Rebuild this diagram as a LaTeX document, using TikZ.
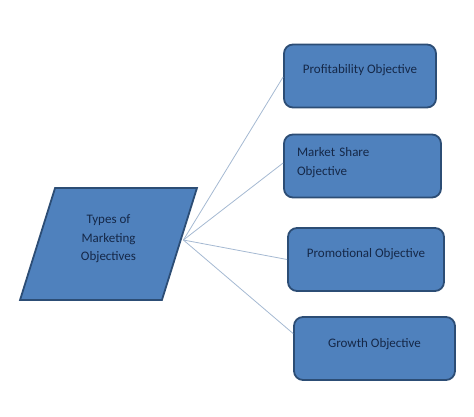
\documentclass[tikz,border=0pt]{standalone}
\usepackage{fontspec}
\setmainfont{Carlito}
\usetikzlibrary{shapes.geometric}
\definecolor{boxfill}{HTML}{4F81BD}
\definecolor{boxline}{HTML}{2C4D75}
\definecolor{boxtext}{HTML}{152848}
\definecolor{linkline}{HTML}{A5B9D2}

\begin{document}
\begin{tikzpicture}[
    x=1pt, y=-1pt,
    objbox/.style={draw=boxline, line width=1.8pt, fill=boxfill, rounded corners=9pt, text=boxtext, font=\fontsize{13}{19}\selectfont, minimum height=63pt, align=center},
    onerow/.style={text height=9pt, text depth=13pt},
    mainbox/.style={trapezium, trapezium left angle=72.6, trapezium right angle=107.4, trapezium stretches=true, draw=boxline, line width=1.8pt, fill=boxfill, text=boxtext, font=\fontsize{13}{18.5}\selectfont, align=center, minimum width=177pt, minimum height=112pt, text depth=12pt},
    link/.style={draw=linkline, line width=0.8pt}
]
\useasboundingbox (0,0) rectangle (474,417);
\node[mainbox] (types) at (108.5,244) {Types of\\Marketing\\Objectives};
\node[objbox, onerow, minimum width=152pt, text depth=14pt] (profit) at (360,76) {Profitability Objective};
\node[objbox, minimum width=157pt, align=left, text width=131pt, inner xsep=13pt, text depth=29pt] (share) at (362.5,166) {Market Share\\Objective};
\node[objbox, onerow, minimum width=156pt] (promo) at (366,259.5) {Promotional Objective};
\node[objbox, onerow, minimum width=161pt, text depth=11pt] (growth) at (374.5,348.5) {Growth Objective};
% links from the main shape
\draw[link] ([shift={(3pt,4pt)}]types.east) -- ([yshift=-1pt]profit.west);
\draw[link] ([shift={(3pt,4pt)}]types.east) -- ([yshift=3pt]share.west);
\draw[link] ([shift={(3pt,4pt)}]types.east) -- (promo.west);
\draw[link] ([shift={(3pt,4pt)}]types.east) -- ([yshift=15pt]growth.west);
\end{tikzpicture}
\end{document}
